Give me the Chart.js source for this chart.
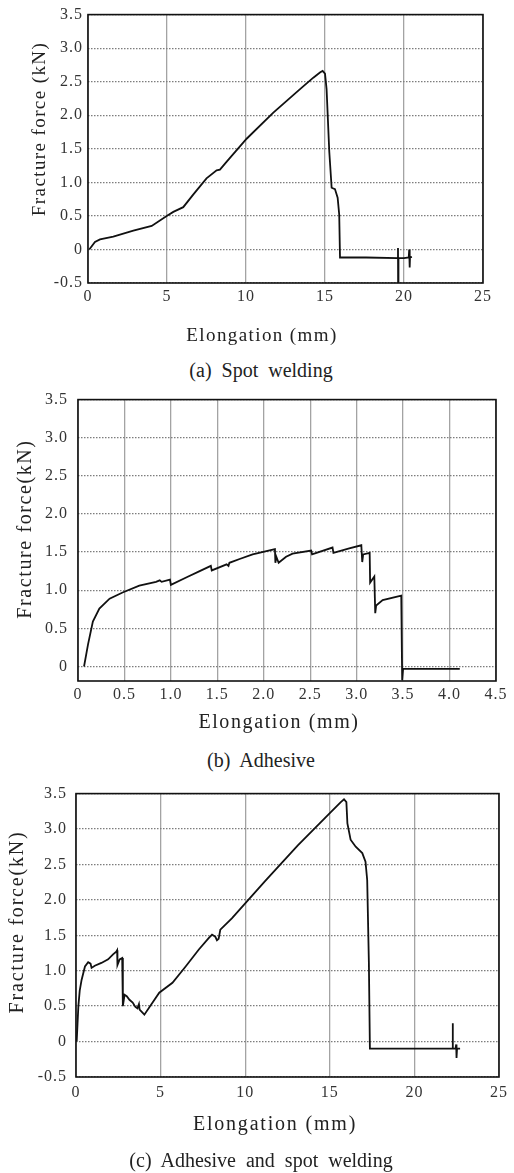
<!DOCTYPE html>
<html>
<head>
<meta charset="utf-8">
<script src="https://cdn.jsdelivr.net/npm/chart.js@4.4.1/dist/chart.umd.min.js"></script>
<style>
  body { margin: 0; background: #fff; width: 514px; height: 1173px; position: relative; overflow: hidden; }
  .box { position: absolute; left: 0; width: 514px; }
  .cap { position: absolute; left: 0; width: 522px; text-align: center; font: 20px "Liberation Serif", serif; color: #222; word-spacing: 5px; line-height: 24px; }
</style>
</head>
<body>
<div class="box" style="top:0;height:350px"><canvas id="chartA"></canvas></div>
<div class="cap" style="top:358px">(a) Spot welding</div>
<div class="box" style="top:380px;height:360px"><canvas id="chartB"></canvas></div>
<div class="cap" style="top:748px">(b) Adhesive</div>
<div class="box" style="top:775px;height:398px"><canvas id="chartC"></canvas></div>
<div class="cap" style="top:1148px">(c) Adhesive and spot welding</div>

<script>
// (a) spot welding
const elongA = [0.08, 0.44, 0.76, 1.6, 2.87, 4.03, 4.98, 5.4, 6.03, 6.67, 7.5, 8.14, 8.35, 8.78, 10.04, 11.73, 13.42, 14.26, 14.7, 14.85, 15.0, 15.1, 15.27, 15.42, 15.63, 15.8, 15.9, 15.95, 17.6, 19.6, 19.62, 19.63, 19.65, 20.0, 20.3, 20.33, 20.36, 20.38, 20.5];
const forceA = [0.0, 0.11, 0.15, 0.19, 0.28, 0.35, 0.50, 0.56, 0.63, 0.82, 1.06, 1.18, 1.19, 1.31, 1.65, 2.04, 2.39, 2.56, 2.64, 2.66, 2.62, 2.39, 1.46, 0.92, 0.90, 0.77, 0.52, -0.12, -0.12, -0.13, 0.02, -0.65, -0.13, -0.13, -0.12, 0.0, -0.27, -0.12, -0.11];

// (b) adhesive
const elongB = [0.065, 0.108, 0.16, 0.23, 0.34, 0.48, 0.66, 0.84, 0.88, 0.9, 0.99, 1.0, 1.17, 1.31, 1.43, 1.44, 1.6, 1.62, 1.63, 1.74, 1.88, 2.12, 2.125, 2.135, 2.16, 2.24, 2.31, 2.51, 2.52, 2.74, 2.75, 2.92, 3.05, 3.06, 3.07, 3.14, 3.145, 3.19, 3.2, 3.21, 3.28, 3.48, 3.49, 3.5, 4.11];
const forceB = [0.0, 0.29, 0.59, 0.76, 0.89, 0.97, 1.06, 1.11, 1.13, 1.11, 1.14, 1.07, 1.17, 1.25, 1.32, 1.26, 1.34, 1.32, 1.36, 1.41, 1.47, 1.54, 1.36, 1.44, 1.36, 1.44, 1.48, 1.52, 1.47, 1.56, 1.49, 1.55, 1.59, 1.37, 1.47, 1.49, 1.10, 1.18, 0.70, 0.80, 0.87, 0.93, -0.18, -0.03, -0.03];

// (c) adhesive and spot welding
const elongC = [0.04, 0.09, 0.14, 0.22, 0.33, 0.53, 0.72, 0.86, 0.92, 1.11, 1.5, 1.9, 2.19, 2.38, 2.43, 2.45, 2.58, 2.73, 2.77, 2.87, 3.0, 3.16, 3.35, 3.51, 3.63, 3.72, 3.76, 4.04, 4.92, 5.7, 6.48, 7.26, 7.84, 8.04, 8.23, 8.33, 8.43, 8.53, 9.21, 11.16, 13.11, 15.06, 15.65, 15.84, 15.98, 16.04, 16.23, 16.53, 16.92, 17.11, 17.21, 17.31, 17.37, 18.97, 22.24, 22.26, 22.28, 22.43, 22.47, 22.49, 22.52, 22.7];
const forceC = [0.0, 0.25, 0.50, 0.72, 0.87, 1.06, 1.12, 1.10, 1.04, 1.07, 1.11, 1.16, 1.23, 1.27, 1.29, 1.08, 1.16, 1.18, 0.50, 0.66, 0.64, 0.59, 0.55, 0.49, 0.47, 0.53, 0.45, 0.38, 0.69, 0.83, 1.06, 1.30, 1.46, 1.51, 1.48, 1.43, 1.45, 1.58, 1.74, 2.26, 2.77, 3.24, 3.38, 3.42, 3.38, 3.08, 2.85, 2.75, 2.66, 2.54, 2.28, 1.11, -0.10, -0.10, -0.10, 0.26, -0.10, -0.10, -0.04, -0.23, -0.10, -0.10];

const xTicksWide = [0, 5, 10, 15, 20, 25];
const xLabelsWide = ['0', '5', '10', '15', '20', '25'];
const xTicksB = [0, 0.5, 1, 1.5, 2, 2.5, 3, 3.5, 4, 4.5];
const xLabelsB = ['0', '0.5', '1.0', '1.5', '2.0', '2.5', '3.0', '3.5', '4.0', '4.5'];
const yTicksAC = [-0.5, 0, 0.5, 1, 1.5, 2, 2.5, 3, 3.5];
const yLabelsAC = ['-0.5', '0', '0.5', '1.0', '1.5', '2.0', '2.5', '3.0', '3.5'];
const yTicksB = [0, 0.5, 1, 1.5, 2, 2.5, 3, 3.5];
const yLabelsB = ['0', '0.5', '1.0', '1.5', '2.0', '2.5', '3.0', '3.5'];

// wide-set serif like the scan; box around plot + axis titles
const frame = {
  id: 'frame',
  beforeLayout(chart) { chart.ctx.letterSpacing = '1px'; },
  beforeDraw(chart) { chart.ctx.letterSpacing = '1px'; },
  afterDraw(chart, args, opts) {
    const { ctx, chartArea: a } = chart;
    ctx.save();
    ctx.strokeStyle = '#111';
    ctx.lineWidth = 1.6;
    ctx.strokeRect(a.left, a.top, a.width, a.height);
    ctx.fillStyle = '#222';
    ctx.font = opts.font;
    ctx.letterSpacing = opts.spacing;
    ctx.textAlign = 'center';
    ctx.textBaseline = 'middle';
    ctx.fillText(opts.xTitle, opts.xAt[0], opts.xAt[1]);
    ctx.translate(opts.yAt[0], opts.yAt[1]);
    ctx.rotate(-Math.PI / 2);
    ctx.fillText(opts.yTitle, 0, 0);
    ctx.restore();
  }
};

const tickFont = { family: '"Liberation Serif", serif', size: 16 };

function makeChart(id, xs, ys, c) {
  return new Chart(document.getElementById(id), {
    type: 'line',
    data: {
      datasets: [{
        data: xs.map((x, i) => ({ x, y: ys[i] })),
        borderColor: '#111',
        borderWidth: 1.8,
        pointRadius: 0,
        tension: 0,
        fill: false
      }]
    },
    options: {
      responsive: true,
      maintainAspectRatio: false,
      animation: false,
      layout: { padding: c.pad },
      plugins: {
        legend: { display: false },
        tooltip: { enabled: false },
        frame: c.frame
      },
      scales: {
        x: {
          type: 'linear',
          min: c.xRange[0], max: c.xRange[1],
          afterBuildTicks: s => { s.ticks = c.xTicks.map(v => ({ value: v })); },
          afterFit: s => { s.height = c.xh; },
          grid: { color: '#a3a3a3', lineWidth: 1.3, drawTicks: false },
          border: { display: false },
          ticks: { callback: (v, i) => c.xLabels[i], font: tickFont, color: '#333', padding: c.xPad, maxRotation: 0, autoSkip: false }
        },
        y: {
          min: c.yRange[0], max: c.yRange[1],
          afterBuildTicks: s => { s.ticks = c.yTicks.map(v => ({ value: v })); },
          afterFit: s => { s.width = c.yw; },
          grid: { color: '#7d7d7d', lineWidth: 1.3, drawTicks: false },
          border: { display: false, dash: [1.5, 1.5] },
          ticks: { callback: (v, i) => c.yLabels[i], font: tickFont, color: '#333', padding: c.yPad, autoSkip: false }
        }
      }
    },
    plugins: [frame]
  });
}

makeChart('chartA', elongA, forceA, {
  pad: { left: 0, top: 11, right: 31, bottom: 0 }, yw: 88, xh: 67, xPad: 4, yPad: 5,
  xRange: [0, 25], yRange: [-0.5, 3.5],
  xTicks: xTicksWide, xLabels: xLabelsWide, yTicks: yTicksAC, yLabels: yLabelsAC,
  frame: { font: '19px "Liberation Serif", serif', spacing: '1.4px', xTitle: 'Elongation (mm)', yTitle: 'Fracture force (kN)', xAt: [262, 336], yAt: [40, 129] }
});

makeChart('chartB', elongB, forceB, {
  pad: { left: 0, top: 16, right: 18, bottom: 0 }, yw: 78, xh: 59, xPad: 4, yPad: 10,
  xRange: [0, 4.5], yRange: [-0.19, 3.5],
  xTicks: xTicksB, xLabels: xLabelsB, yTicks: yTicksB, yLabels: yLabelsB,
  frame: { font: '20px "Liberation Serif", serif', spacing: '1.6px', xTitle: 'Elongation (mm)', yTitle: 'Fracture force(kN)', xAt: [279, 343], yAt: [26, 149] }
});

makeChart('chartC', elongC, forceC, {
  pad: { left: 0, top: 18, right: 11, bottom: 0 }, yw: 76, xh: 96, xPad: 6, yPad: 9,
  xRange: [0, 25], yRange: [-0.5, 3.5],
  xTicks: xTicksWide, xLabels: xLabelsWide, yTicks: yTicksAC, yLabels: yLabelsAC,
  frame: { font: '20px "Liberation Serif", serif', spacing: '1.8px', xTitle: 'Elongation (mm)', yTitle: 'Fracture force(kN)', xAt: [275, 350], yAt: [18, 147] }
});
</script>
</body>
</html>
